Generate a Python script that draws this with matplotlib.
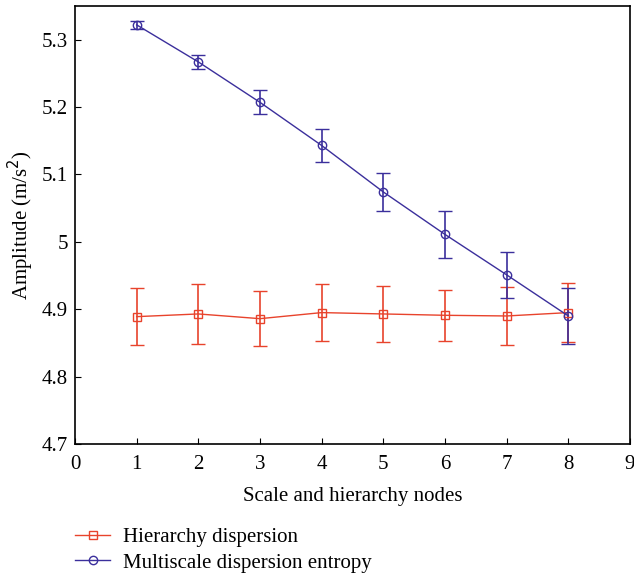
import numpy as np
from matplotlib import pyplot as plt
from matplotlib.lines import Line2D

plt.rcParams["font.family"] = ["Liberation Serif", "DejaVu Serif"]

nodes = [1, 2, 3, 4, 5, 6, 7, 8]

hd_mean = [4.889, 4.893, 4.886, 4.895, 4.893, 4.891, 4.890, 4.895]
hd_err = [0.042, 0.044, 0.041, 0.042, 0.041, 0.038, 0.043, 0.044]

mde_mean = [5.322, 5.267, 5.207, 5.143, 5.074, 5.011, 4.951, 4.890]
mde_err = [0.006, 0.010, 0.018, 0.025, 0.028, 0.035, 0.034, 0.042]

red = "#e8432c"
blue = "#3b2f9c"

W, H = 634, 575
fig = plt.figure(figsize=(W / 100, H / 100), dpi=100)
ax = fig.add_axes([75 / W, 1 - 444 / H, 555 / W, 438 / H])

ax.errorbar(nodes, hd_mean, yerr=hd_err, color=red, marker="s", mfc="none",
            ms=6, mew=1, lw=1, capsize=5, elinewidth=1.2, capthick=1.2)
ax.errorbar(nodes, mde_mean, yerr=mde_err, color=blue, marker="o", mfc="none",
            ms=6, mew=1, lw=1, capsize=5, elinewidth=1.2, capthick=1.2)

ax.set_xlim(0, 9)
ax.set_ylim(4.7, 5.35)
ax.set_xticks(range(0, 10))
ax.set_yticks([4.7, 4.8, 4.9, 5.0, 5.1, 5.2, 5.3])
ax.set_yticklabels(["4.7", "4.8", "4.9", "5", "5.1", "5.2", "5.3"])
ax.tick_params(direction="in", length=4, labelsize=15, pad=5)
ax.tick_params(axis="x", pad=8)
for s in ax.spines.values():
    s.set_linewidth(1.2)

ax.set_xlabel("Scale and hierarchy nodes", fontsize=15, labelpad=9)
ax.set_ylabel("Amplitude (m/s$^2$)", fontsize=15, labelpad=4)

handles = [
    Line2D([], [], color=red, marker="s", mfc="none", ms=6, lw=1),
    Line2D([], [], color=blue, marker="o", mfc="none", ms=6, lw=1),
]
labels = ["Hierarchy dispersion", "Multiscale dispersion entropy"]
fig.legend(handles, labels, loc="center left",
           bbox_to_anchor=(75 / W, 1 - 550 / H), frameon=False, fontsize=15,
           handlelength=1.7, handletextpad=0.6, labelspacing=0.3,
           borderpad=0, borderaxespad=0)

plt.savefig("out.png", dpi=100)
